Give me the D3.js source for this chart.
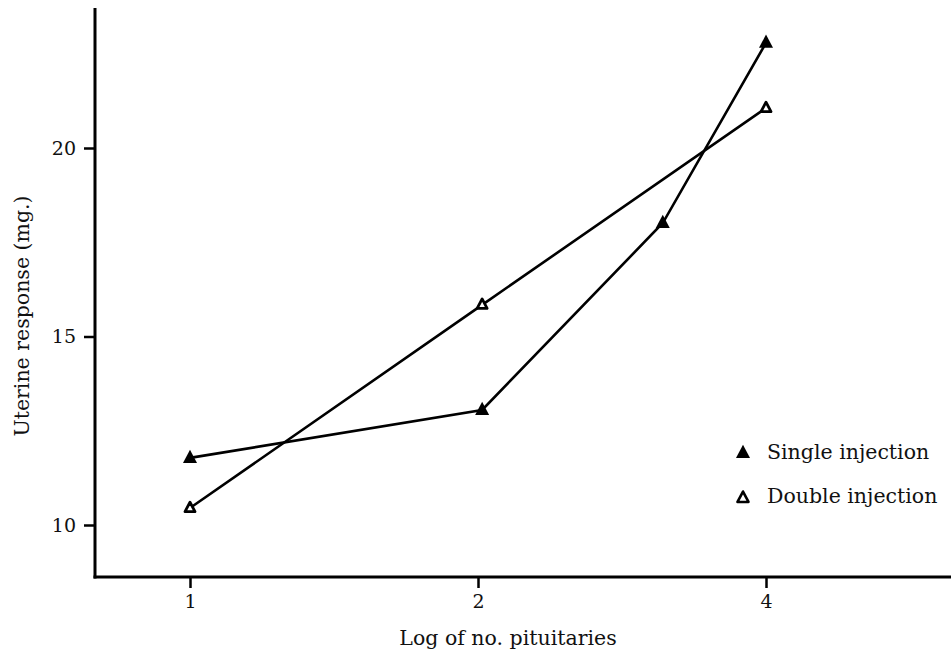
<!DOCTYPE html>
<html>
<head>
<meta charset="utf-8">
<script src="https://cdn.jsdelivr.net/npm/d3@7"></script>
<style>
  html, body { margin: 0; padding: 0; background: #fff; }
  svg { display: block; }
  text { font-family: "DejaVu Serif", "Liberation Serif", serif; fill: #111; }
</style>
</head>
<body>
<svg id="chart" width="951" height="654"></svg>
<script>
// Number of pituitaries (plotted on a log scale)
const singleDose = [1, 2.02, 3.12, 4];
const singleResponse = [11.78, 13.05, 18.01, 22.79];
const doubleDose = [1, 2.02, 4];
const doubleResponse = [10.45, 15.84, 21.06];
const xTicks = [1, 2, 4];
const yTicks = [10, 15, 20];
const legendLabels = ["Single injection", "Double injection"];

const svg = d3.select("#chart");
const W = 951, H = 654;
const axisX = 95, axisY = 577, axisTop = 8;
const serif = "'DejaVu Serif', serif";

const x = d3.scaleLog().base(2).domain([1, 4]).range([190, 766]);
const y = d3.scaleLinear().domain([10, 20]).range([525, 148]);

// Axis lines
svg.append("line").attr("x1", axisX).attr("x2", axisX)
  .attr("y1", axisTop).attr("y2", axisY + 1.5)
  .attr("stroke", "#000").attr("stroke-width", 3);
svg.append("line").attr("x1", axisX - 1.5).attr("x2", W)
  .attr("y1", axisY).attr("y2", axisY)
  .attr("stroke", "#000").attr("stroke-width", 3);

// Bottom axis ticks
const gx = svg.append("g").attr("transform", `translate(0,${axisY})`)
  .call(d3.axisBottom(x).tickValues(xTicks).tickFormat(d3.format("d"))
    .tickSizeOuter(0).tickSizeInner(11).tickPadding(7));
gx.select(".domain").remove();
gx.selectAll(".tick line").attr("stroke", "#000").attr("stroke-width", 2.5);
gx.selectAll(".tick text").attr("font-size", 19).attr("fill", "#111")
  .style("font-family", serif);

// Left axis ticks
const gy = svg.append("g").attr("transform", `translate(${axisX},0)`)
  .call(d3.axisLeft(y).tickValues(yTicks).tickFormat(d3.format("d"))
    .tickSizeOuter(0).tickSizeInner(11).tickPadding(8));
gy.select(".domain").remove();
gy.selectAll(".tick line").attr("stroke", "#000").attr("stroke-width", 2.5);
gy.selectAll(".tick text").attr("font-size", 19).attr("fill", "#111")
  .style("font-family", serif);

// Axis titles
svg.append("text").attr("x", 508).attr("y", 645)
  .attr("text-anchor", "middle").attr("font-size", 20.5)
  .text("Log of no. pituitaries");
svg.append("text")
  .attr("transform", "translate(29,316) rotate(-90)")
  .attr("text-anchor", "middle").attr("font-size", 20.5)
  .text("Uterine response (mg.)");

// Series lines
const line = d3.line().x(d => x(d[0])).y(d => y(d[1]));
const singlePts = singleDose.map((d, i) => [d, singleResponse[i]]);
const doublePts = doubleDose.map((d, i) => [d, doubleResponse[i]]);

svg.append("path").datum(doublePts).attr("d", line)
  .attr("fill", "none").attr("stroke", "#000").attr("stroke-width", 2.6);
svg.append("path").datum(singlePts).attr("d", line)
  .attr("fill", "none").attr("stroke", "#000").attr("stroke-width", 2.6);

// Triangle markers
function triangle(cx, cy, s) {
  const h = s * 0.95;
  return `M${cx},${cy - h * 0.62} L${cx + s / 2},${cy + h * 0.38} L${cx - s / 2},${cy + h * 0.38} Z`;
}
svg.append("g").selectAll("path").data(singlePts).join("path")
  .attr("d", d => triangle(x(d[0]), y(d[1]), 14))
  .attr("fill", "#000");
svg.append("g").selectAll("path").data(doublePts).join("path")
  .attr("d", d => triangle(x(d[0]), y(d[1]), 10))
  .attr("fill", "#fff").attr("stroke", "#000").attr("stroke-width", 2.8)
  .attr("stroke-linejoin", "round");

// Legend
const legend = svg.append("g");
legend.append("path").attr("d", triangle(743, 453, 14)).attr("fill", "#000");
legend.append("path").attr("d", triangle(743, 498, 11))
  .attr("fill", "#fff").attr("stroke", "#000").attr("stroke-width", 2.6)
  .attr("stroke-linejoin", "round");
legend.append("text").attr("x", 767).attr("y", 459).attr("font-size", 20.5)
  .text(legendLabels[0]);
legend.append("text").attr("x", 767).attr("y", 503).attr("font-size", 20.5)
  .text(legendLabels[1]);
</script>
</body>
</html>
